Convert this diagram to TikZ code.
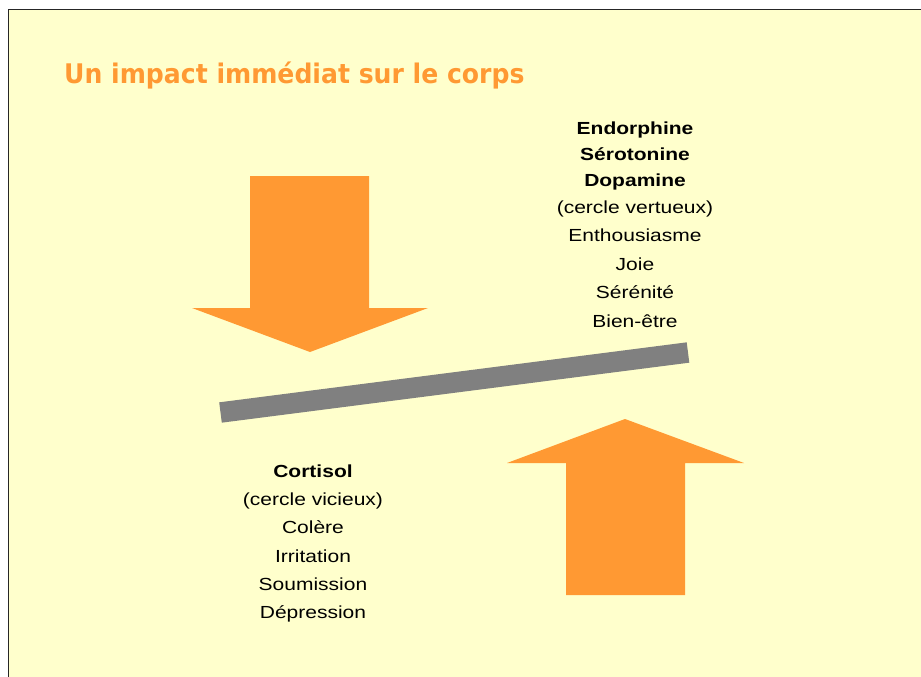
\documentclass[tikz,border=0pt]{standalone}
\usepackage{fontspec}
\setmainfont{Liberation Sans}
\newfontfamily\titlefont{DejaVu Sans}
\definecolor{slidebg}{HTML}{FFFFCC}
\definecolor{arroworange}{HTML}{FF9933}
\definecolor{bargray}{HTML}{808080}
\newcommand{\wide}[1]{\scalebox{1.2}[1]{#1}}
\tikzset{
  word/.style={anchor=base, inner sep=0pt, font=\fontsize{17.5}{20}\selectfont},
  keyword/.style={word, font=\fontsize{17.5}{20}\selectfont\bfseries},
  bigarrow/.style={fill=arroworange, draw=none},
}
\begin{document}
\begin{tikzpicture}[x=1pt,y=-1pt,line join=miter]
\useasboundingbox (0,0) rectangle (921,677);
\fill[white] (0,0) rectangle (921,677);
\draw[fill=slidebg, line width=1.2pt, draw=black!85] (8.5,9.5) rectangle (930,690);
\node[anchor=base west, inner sep=0pt, text=arroworange, font=\titlefont\bfseries\fontsize{27}{30}\selectfont] (title) at (64,83) {\scalebox{0.93}[1]{Un impact immédiat sur le corps}};

% arrows and the bar
\fill[bigarrow] (250,176) -- (369,176) -- (369,308) -- (428,308) -- (310,352) -- (192,308) -- (250,308) -- cycle;
\fill[bigarrow] (566,595) -- (685,595) -- (685,463) -- (744,463) -- (625,419) -- (507,463) -- (566,463) -- cycle;
\draw[bargray, line width=20.5pt] (220.5,412.5) -- (688,352.5);

% right list
\foreach \t [count=\i] in {Endorphine,Sérotonine,Dopamine}
  \node[keyword] (hormone\i) at (635,108+26*\i) {\wide{\t}};
\foreach \t [count=\i] in {{(cercle vertueux)},Enthousiasme,Joie,Sérénité,Bien-être}
  \node[word] (good\i) at (635,184.5+28.5*\i) {\wide{\t}};

% left list
\node[keyword] (cortisol) at (313,477.7) {\wide{Cortisol}};
\foreach \t [count=\i] in {{(cercle vicieux)},Colère,Irritation,Soumission,Dépression}
  \node[word] (bad\i) at (313,477.7+28.1*\i) {\wide{\t}};
\end{tikzpicture}
\end{document}
